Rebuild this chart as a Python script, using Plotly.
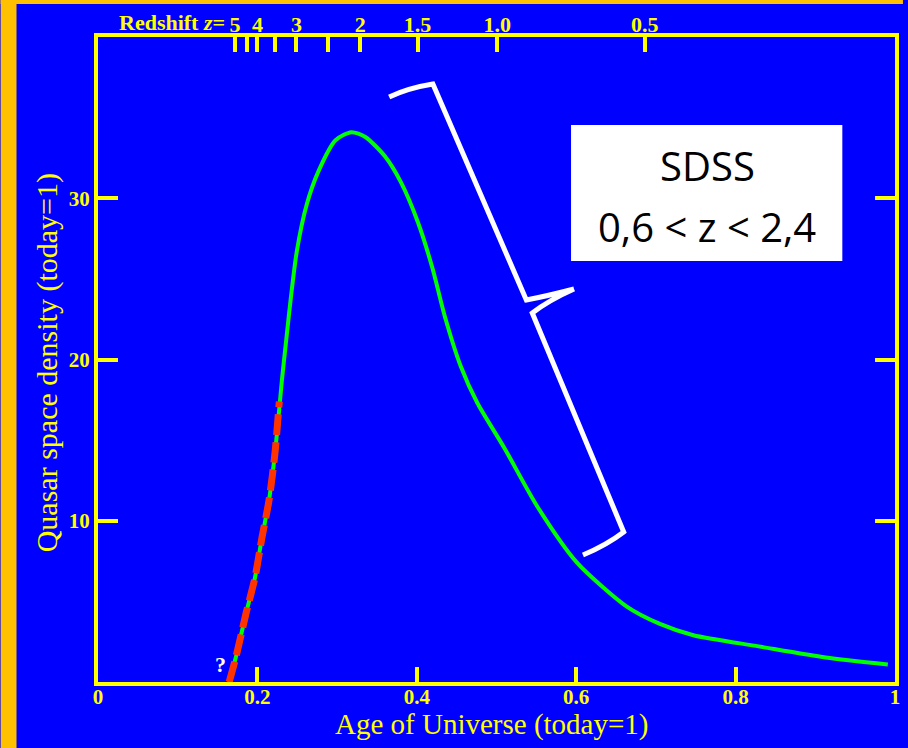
import plotly.graph_objects as go

# ---- data ----
age = [0.1646, 0.1733, 0.1858, 0.197, 0.2057, 0.2145, 0.222, 0.2269, 0.2307, 0.2357,
       0.2419, 0.2494, 0.2618, 0.2768, 0.298, 0.318, 0.3354, 0.360, 0.380, 0.4015,
       0.420, 0.435, 0.455, 0.476, 0.510, 0.551, 0.601, 0.663, 0.705, 0.747, 0.829, 0.913, 0.991]
density = [0.0, 1.59, 4.27, 6.48, 8.95, 11.25, 14.17, 16.65, 18.7, 21.0,
           23.8, 26.7, 29.6, 31.7, 33.6, 34.1, 33.8, 32.6, 31.0, 28.5,
           25.6, 22.7, 19.6, 17.3, 14.5, 10.9, 7.4, 4.69, 3.6, 2.9, 2.21, 1.52, 1.09]

early_age = [0.1646, 0.1733, 0.1858, 0.197, 0.2057, 0.2145, 0.222, 0.2275]
early_density = [0.0, 1.59, 4.27, 6.48, 8.95, 11.25, 14.17, 17.4]

x_ticks = [0, 0.2, 0.4, 0.6, 0.8, 1]
x_ticklabels = ["0", "0.2", "0.4", "0.6", "0.8", "1"]
y_ticks = [10, 20, 30]
y_ticklabels = ["10", "20", "30"]

redshift_age = [0.172, 0.187, 0.200, 0.222, 0.249, 0.288, 0.329, 0.401, 0.501, 0.686]
redshift_labels = ["5", "", "4", "", "3", "", "2", "1.5", "1.0", "0.5"]

BLUE = "#0000FF"
YELLOW = "#FFFF00"
ORANGE = "#FFC000"
GREEN = "#00FF00"
RED = "#FF3300"
SERIF = "Liberation Serif, Times New Roman, serif"

W, H = 908, 748
L, R, T, B = 98, 8, 37, 66
PW, PH = W - L - R, H - T - B


def px(x):
    return (x - L) / PW


def py(y):
    return (H - B - y) / PH


fig = go.Figure()
fig.add_trace(go.Scatter(x=age, y=density, mode="lines",
                         line=dict(color=GREEN, width=4, shape="spline", smoothing=0.7),
                         hoverinfo="skip", showlegend=False))
fig.add_trace(go.Scatter(x=early_age, y=early_density, mode="lines",
                         line=dict(color=RED, width=7, dash="21px,7px", shape="spline", smoothing=0.7),
                         hoverinfo="skip", showlegend=False))
# invisible trace to activate top axis
fig.add_trace(go.Scatter(x=[0, 1], y=[None, None], xaxis="x2", mode="lines",
                         showlegend=False, hoverinfo="skip"))

tickfont = dict(family=SERIF, size=21, color=YELLOW, weight="bold")

fig.update_layout(
    width=W, height=H,
    margin=dict(l=L, r=R, t=T, b=B),
    paper_bgcolor=BLUE, plot_bgcolor=BLUE,
    showlegend=False,
    xaxis=dict(range=[0, 1], tickvals=x_ticks, ticktext=x_ticklabels,
               ticks="inside", ticklen=15, tickwidth=4, tickcolor=YELLOW,
               showline=True, linecolor=YELLOW, linewidth=4, mirror=True,
               showgrid=False, zeroline=False, tickfont=tickfont,
               ticklabelstandoff=-7),
    xaxis2=dict(range=[0, 1], overlaying="x", side="top",
                tickvals=redshift_age, ticktext=redshift_labels,
                ticks="inside", ticklen=15, tickwidth=4, tickcolor=YELLOW,
                showline=False, showgrid=False, zeroline=False,
                tickfont=dict(family=SERIF, size=22, color=YELLOW, weight="bold")),
    yaxis=dict(range=[0, 40], tickvals=y_ticks, ticktext=y_ticklabels,
               ticks="inside", ticklen=20, tickwidth=4, tickcolor=YELLOW,
               showline=True, linecolor=YELLOW, linewidth=4, mirror="ticks",
               showgrid=False, zeroline=False, tickfont=tickfont),
)

shapes = [
    # orange strips (slide border)
    dict(type="rect", xref="paper", yref="paper", x0=px(0), x1=px(16), y0=py(H), y1=py(0),
         fillcolor=ORANGE, line=dict(width=0), layer="below"),
    dict(type="rect", xref="paper", yref="paper", x0=px(0), x1=px(W), y0=py(4), y1=py(0),
         fillcolor=ORANGE, line=dict(width=0), layer="below"),
    # white label box
    dict(type="rect", xref="paper", yref="paper", x0=px(574), x1=px(847), y0=py(261), y1=py(125),
         fillcolor="white", line=dict(width=0), layer="above"),
]

# curly brace (decoration) built in paper coordinates
brace_pts = [
    ("M", 391, 97), ("Q", 410, 88, 435, 84), ("L", 529, 300), ("Q", 550, 296, 577, 289),
    ("M", 577, 289), ("Q", 552, 300, 535, 313), ("L", 627, 532), ("Q", 610, 545, 586, 555),
]
path = ""
for seg in brace_pts:
    cmd = seg[0]
    coords = seg[1:]
    parts = []
    for i in range(0, len(coords), 2):
        parts.append(f"{px(coords[i]):.5f},{py(coords[i+1]):.5f}")
    path += cmd + " " + " ".join(parts) + " "
shapes.append(dict(type="path", xref="paper", yref="paper", path=path.strip(),
                   line=dict(color="white", width=5), layer="above"))
fig.update_layout(shapes=shapes)

box_font = dict(family="Open Sans, sans-serif", size=40, color="black")
annotations = [
    dict(text="Redshift <i>z</i>=", xref="paper", yref="paper", x=px(228), y=py(23),
         xanchor="right", yanchor="middle", showarrow=False,
         font=dict(family=SERIF, size=22, color=YELLOW, weight="bold")),
    dict(text="Age of Universe (today=1)", xref="paper", yref="paper", x=px(494), y=py(724),
         xanchor="center", yanchor="middle", showarrow=False,
         font=dict(family=SERIF, size=29, color=YELLOW)),
    dict(text="Quasar space density (today=1)", xref="paper", yref="paper", x=px(47), y=py(363),
         xanchor="center", yanchor="middle", showarrow=False, textangle=-90,
         font=dict(family=SERIF, size=30, color=YELLOW)),
    dict(text="?", xref="paper", yref="paper", x=px(221), y=py(664),
         xanchor="center", yanchor="middle", showarrow=False,
         font=dict(family=SERIF, size=22, color="white", weight="bold")),
    dict(text="SDSS", xref="paper", yref="paper", x=px(711), y=py(166),
         xanchor="center", yanchor="middle", showarrow=False, font=box_font),
    dict(text="0,6 &lt; z &lt; 2,4", xref="paper", yref="paper", x=px(711), y=py(226),
         xanchor="center", yanchor="middle", showarrow=False, font=box_font),
]
fig.update_layout(annotations=annotations)

fig.write_html("out.html", config={"displayModeBar": False},
               post_script="document.body.style.margin='0';document.body.style.overflow='hidden';")
